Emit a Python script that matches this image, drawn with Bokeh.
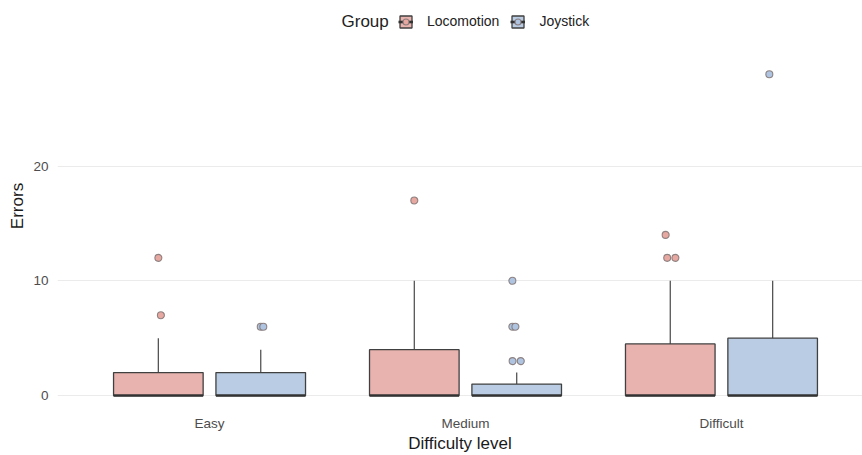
from bokeh.plotting import figure
from bokeh.models import Range1d, FixedTicker, Legend, LegendItem, ColumnDataSource, Label
from bokeh.embed import file_html
from bokeh.resources import INLINE

# ---- data ----
categories = ["Easy", "Medium", "Difficult"]
groups = ["Locomotion", "Joystick"]

loc_q1 = [0, 0, 0]
loc_median = [0, 0, 0]
loc_q3 = [2, 4, 4.5]
loc_whisk_lo = [0, 0, 0]
loc_whisk_hi = [5, 10, 10]

joy_q1 = [0, 0, 0]
joy_median = [0, 0, 0]
joy_q3 = [2, 1, 5]
joy_whisk_lo = [0, 0, 0]
joy_whisk_hi = [4, 2, 10]

# outliers: category, group, value, small horizontal jitter (category units)
out_category = ["Easy", "Easy", "Easy", "Easy", "Medium", "Medium", "Medium", "Medium", "Medium", "Medium",
                "Difficult", "Difficult", "Difficult", "Difficult"]
out_group = ["Locomotion", "Locomotion", "Joystick", "Joystick", "Locomotion", "Joystick", "Joystick",
             "Joystick", "Joystick", "Joystick", "Locomotion", "Locomotion", "Locomotion", "Joystick"]
out_value = [12, 7, 6, 6, 17, 10, 6, 6, 3, 3, 14, 12, 12, 28]
out_jitter = [0.0, 0.01, 0.0, 0.01, 0.0, -0.017, -0.017, -0.005, -0.016, 0.016, -0.018, -0.012, 0.02, -0.013]

y_ticks = [0, 10, 20]

fills = {"Locomotion": "#E8B3AE", "Joystick": "#B9CCE3"}
pt_fills = {"Locomotion": "#E6A8A0", "Joystick": "#AFC4E0"}
dodge = {"Locomotion": -0.2, "Joystick": 0.2}
box_w = 0.35
FONT = "Liberation Sans"

p = figure(width=862, height=455, output_backend="svg", toolbar_location=None,
           x_range=Range1d(-0.594, 2.551), y_range=Range1d(-1.391, 34.43),
           min_border_left=57, min_border_right=0, min_border_top=0, min_border_bottom=43)

stats = {
    "Locomotion": (loc_q1, loc_median, loc_q3, loc_whisk_lo, loc_whisk_hi),
    "Joystick": (joy_q1, joy_median, joy_q3, joy_whisk_lo, joy_whisk_hi),
}

legend_items = []
for g in groups:
    q1, med, q3, wl, wh = stats[g]
    xs = [i + dodge[g] for i in range(len(categories))]
    src = ColumnDataSource(dict(x=xs, left=[x - box_w / 2 for x in xs], right=[x + box_w / 2 for x in xs],
                                q1=q1, med=med, q3=q3, wl=wl, wh=wh))
    p.segment(x0="x", y0="q3", x1="x", y1="wh", source=src, line_color="#555555", line_width=1.3)
    p.segment(x0="x", y0="wl", x1="x", y1="q1", source=src, line_color="#555555", line_width=1.3)
    box = p.quad(left="left", right="right", bottom="q1", top="q3", source=src,
                 fill_color=fills[g], line_color="#404040", line_width=1.3)
    medr = p.segment(x0="left", y0="med", x1="right", y1="med", source=src, line_color="#333333", line_width=2.6)
    idx = [k for k in range(len(out_value)) if out_group[k] == g]
    osrc = ColumnDataSource(dict(
        x=[categories.index(out_category[k]) + dodge[g] + out_jitter[k] for k in idx],
        y=[out_value[k] for k in idx]))
    pts = p.scatter("x", "y", source=osrc, size=7, fill_color=pt_fills[g], line_color="#857878",
                    line_width=1.1, line_alpha=0.9)
    legend_items.append(LegendItem(label=g, renderers=[box, medr, pts]))

legend = Legend(items=legend_items, orientation="horizontal", location=(341, 382),
                margin=0, padding=4, spacing=11, label_standoff=14,
                glyph_width=15, glyph_height=15, border_line_color=None, background_fill_alpha=0,
                label_text_font=FONT, label_text_font_size="14px", label_text_color="#222222",
                label_text_baseline="middle")
p.add_layout(legend)

p.add_layout(Label(x=284, y=390, x_units="screen", y_units="screen", text="Group",
                   text_font=FONT, text_font_size="17px", text_color="#222222",
                   text_baseline="middle", text_align="left"))

# axes
p.yaxis.ticker = FixedTicker(ticks=y_ticks)
p.xaxis.ticker = FixedTicker(ticks=list(range(len(categories))))
p.xaxis.major_label_overrides = {i: c for i, c in enumerate(categories)}
p.xaxis.axis_label = "Difficulty level"
p.yaxis.axis_label = "Errors"
for ax in (p.xaxis, p.yaxis):
    ax.axis_line_color = None
    ax.major_tick_line_color = None
    ax.minor_tick_line_color = None
    ax.major_tick_out = 0
    ax.major_tick_in = 0
    ax.minor_tick_out = 0
    ax.minor_tick_in = 0
    ax.major_label_text_font = FONT
    ax.major_label_text_font_size = "13.5px"
    ax.major_label_text_color = "#4D4D4D"
    ax.axis_label_text_font = FONT
    ax.axis_label_text_font_size = "17px"
    ax.axis_label_text_font_style = "normal"
    ax.axis_label_text_color = "#1A1A1A"
p.xaxis.major_label_standoff = 4
p.xaxis.axis_label_standoff = 0
p.yaxis.major_label_standoff = 9
p.yaxis.axis_label_standoff = 3

p.xgrid.visible = False
p.ygrid.ticker = FixedTicker(ticks=y_ticks)
p.ygrid.grid_line_color = "#EBEBEB"
p.ygrid.grid_line_width = 1.2
p.outline_line_color = None

open("out.html", "w").write(file_html(p, INLINE))
